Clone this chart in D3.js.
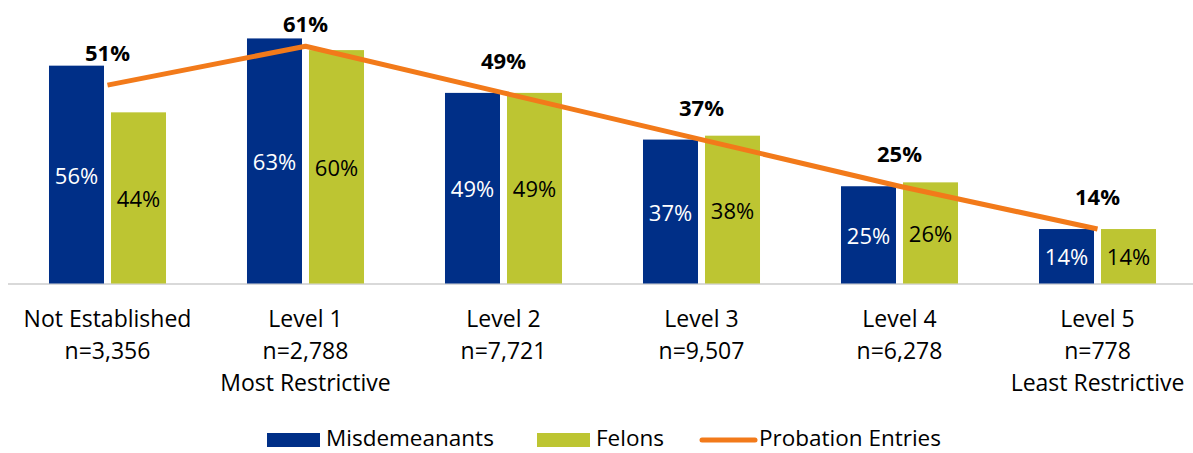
<!DOCTYPE html>
<html>
<head>
<meta charset="utf-8">
<script src="https://cdn.jsdelivr.net/npm/d3@7"></script>
<style>
  html, body { margin: 0; padding: 0; background: #fff; }
  svg { display: block; font-family: "Open Sans", Lato, sans-serif; }
</style>
</head>
<body>
<svg id="chart" width="1193" height="453"></svg>
<script>
const categories = ["Not Established", "Level 1", "Level 2", "Level 3", "Level 4", "Level 5"];
const sampleSizes = ["n=3,356", "n=2,788", "n=7,721", "n=9,507", "n=6,278", "n=778"];
const subLabels = ["", "Most Restrictive", "", "", "", "Least Restrictive"];
const seriesNames = ["Misdemeanants", "Felons"];
const misdemeanants = [56, 63, 49, 37, 25, 14];
const felons = [44, 60, 49, 38, 26, 14];
const probationEntries = [51, 61, 49, 37, 25, 14];
const lineName = "Probation Entries";

const colors = { Misdemeanants: "#002F87", Felons: "#BDC532", line: "#F27A1A" };

const svg = d3.select("#chart");
const baseY = 283.5;
const pxPerPct = 3.89;

const x = d3.scaleBand().domain(categories).range([8.5, 1196.5])
  .paddingInner(0.409).paddingOuter(0.2045);
const x1 = d3.scaleBand().domain(seriesNames).range([0, x.bandwidth()]).paddingInner(0.113);
const y = d3.scaleLinear().domain([0, 70]).range([baseY, baseY - 70 * pxPerPct]);

const rows = categories.map((c, i) => ({
  cat: c, Misdemeanants: misdemeanants[i], Felons: felons[i], line: probationEntries[i]
}));

// axis baseline
svg.append("line")
  .attr("x1", 8).attr("x2", 1193)
  .attr("y1", y(0) + 0.5).attr("y2", y(0) + 0.5)
  .attr("stroke", "#D9D9D9").attr("stroke-width", 2);

// bars
const groups = svg.append("g").selectAll("g").data(rows).join("g")
  .attr("transform", d => `translate(${x(d.cat)},0)`);

groups.selectAll("rect").data(d => seriesNames.map(s => ({ s, v: d[s] }))).join("rect")
  .attr("x", d => x1(d.s))
  .attr("width", x1.bandwidth())
  .attr("y", d => y(d.v))
  .attr("height", d => y(0) - y(d.v))
  .attr("fill", d => colors[d.s]);

groups.selectAll("text.val").data(d => seriesNames.map(s => ({ s, v: d[s] }))).join("text")
  .attr("class", "val")
  .attr("x", d => x1(d.s) + x1.bandwidth() / 2)
  .attr("y", d => (y(d.v) + y(0)) / 2)
  .attr("text-anchor", "middle")
  .attr("dominant-baseline", "central")
  .attr("font-size", 22)
  .attr("fill", d => d.s === "Misdemeanants" ? "#fff" : "#000")
  .text(d => d.v + "%");

// line
const cx = d => x(d.cat) + x.bandwidth() / 2;
svg.append("path").datum(rows)
  .attr("fill", "none")
  .attr("stroke", colors.line)
  .attr("stroke-width", 5)
  .attr("stroke-linejoin", "round")
  .attr("d", d3.line().x(cx).y(d => y(d.line)));

svg.append("g").selectAll("text").data(rows).join("text")
  .attr("x", cx)
  .attr("y", d => Math.max(y(d.line) - 33, 22.5))
  .attr("text-anchor", "middle")
  .attr("dominant-baseline", "central")
  .attr("font-size", 22)
  .attr("font-weight", "bold")
  .attr("fill", "#000")
  .text(d => d.line + "%");

// category labels
const lab = svg.append("g").selectAll("text").data(categories).join("text")
  .attr("x", d => x(d) + x.bandwidth() / 2)
  .attr("text-anchor", "middle")
  .attr("font-size", 23)
  .attr("fill", "#000");
lab.append("tspan").attr("x", d => x(d) + x.bandwidth() / 2).attr("y", 327).text(d => d);
lab.append("tspan").attr("x", d => x(d) + x.bandwidth() / 2).attr("y", 359).text((d, i) => sampleSizes[i]);
lab.append("tspan").attr("x", d => x(d) + x.bandwidth() / 2).attr("y", 391).text((d, i) => subLabels[i]);

// legend
const leg = svg.append("g");
const legY = 440;
const legendItems = [
  { name: "Misdemeanants", type: "rect", x: 267, color: colors.Misdemeanants },
  { name: "Felons", type: "rect", x: 537, color: colors.Felons },
  { name: lineName, type: "line", x: 700, color: colors.line }
];
legendItems.forEach(it => {
  if (it.type === "rect") {
    leg.append("rect").attr("x", it.x).attr("y", legY - 7).attr("width", 53).attr("height", 14).attr("fill", it.color);
  } else {
    leg.append("line").attr("x1", it.x + 2).attr("x2", it.x + 55).attr("y1", legY).attr("y2", legY)
      .attr("stroke", it.color).attr("stroke-width", 5).attr("stroke-linecap", "round");
  }
  leg.append("text").attr("x", it.x + 59).attr("y", 446)
    .attr("font-size", 22.5).attr("fill", "#000").text(it.name);
});
</script>
</body>
</html>
